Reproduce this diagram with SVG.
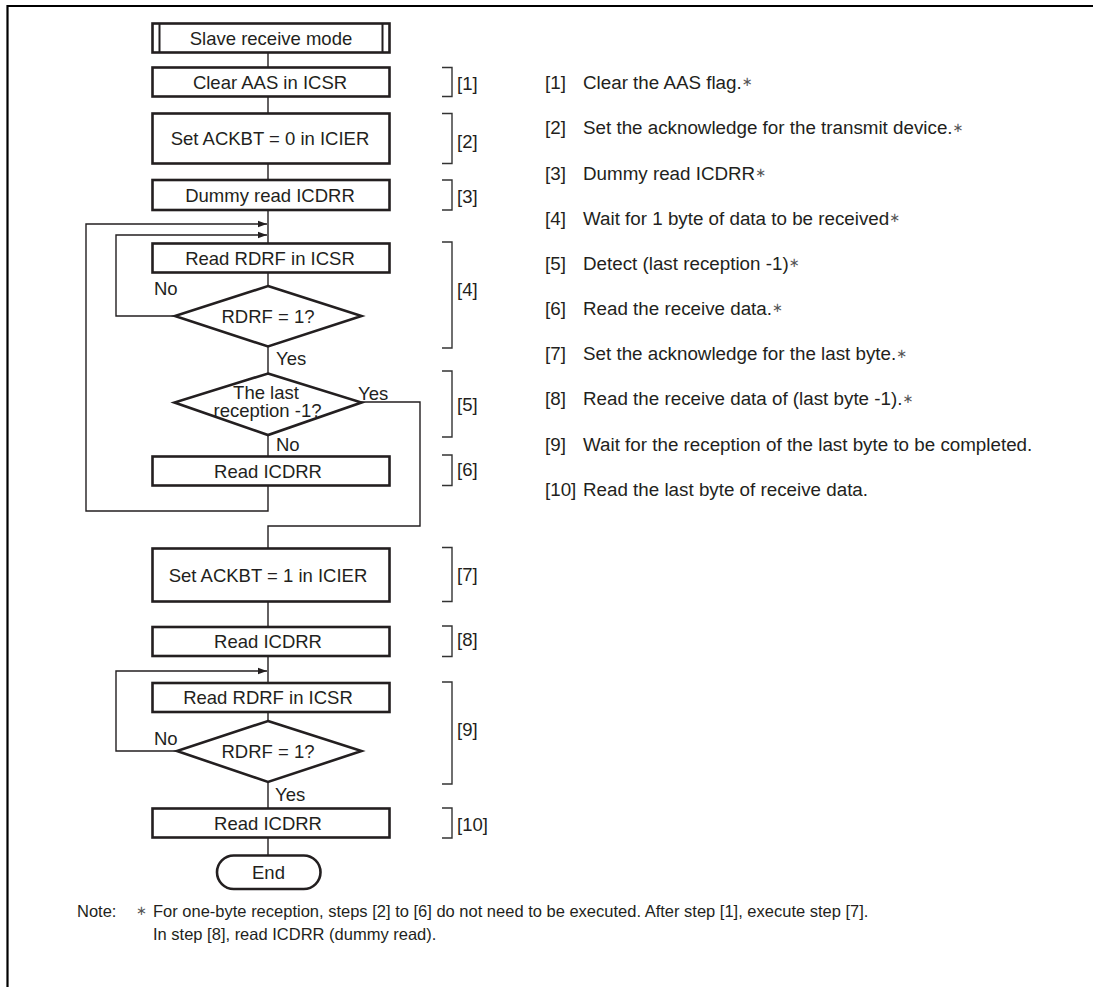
<svg xmlns="http://www.w3.org/2000/svg" width="1093" height="987" viewBox="0 0 1093 987">
<style>
text{font-family:"Liberation Sans",Arial,sans-serif;font-size:18.5px;fill:#231f20}
.c{text-anchor:middle}
.s{font-size:18.8px}
.box{fill:#fff;stroke:#231f20;stroke-width:2.6}
.ln{fill:none;stroke:#231f20;stroke-width:1.4}
.br{fill:none;stroke:#333;stroke-width:1.4}
.ast{font-family:"DejaVu Sans",sans-serif;font-size:13px;fill:#555}
.note{font-size:16.5px}
</style>
<defs>
<marker id="ah" markerWidth="10" markerHeight="8" refX="9" refY="4" orient="auto" markerUnits="userSpaceOnUse">
<path d="M0,0.8 L9,4 L0,7.2 Z" fill="#231f20"/>
</marker>
</defs>
<rect width="1093" height="987" fill="#fff"/>
<g id="frame"><path d="M7.5,987 V6 H1093" fill="none" stroke="#000" stroke-width="2.2"/></g>

<g id="connectors">
<path class="ln" d="M268,52 V67 M268,96 V113 M268,163 V179 M268,210 V243 M268,272 V286 M268,347 V373 M268,435 V456 M268,485 V511 H86 V224 H267" marker-end="url(#ah)"/>
<path class="ln" d="M176,316 H116 V235 H267" marker-end="url(#ah)"/>
<path class="ln" d="M361,402 H420 V526 H268 V548 M268,601 V627 M268,656 V683 M268,712 V721 M268,782 V808 M268,838 V855"/>
<path class="ln" d="M178,751 H116 V671 H267" marker-end="url(#ah)"/>
</g>

<g id="n0"><rect class="box" x="152.5" y="23.5" width="237" height="29"/><path d="M159.5,23.5 V52.5 M382.5,23.5 V52.5" stroke="#231f20" stroke-width="2"/><text class="c" x="271" y="44.5">Slave receive mode</text></g>
<g id="n1"><rect class="box" x="152.5" y="67.5" width="237" height="29"/><text class="c" x="270" y="88.5">Clear AAS in ICSR</text></g>
<g id="n2"><rect class="box" x="152.5" y="113.5" width="237" height="50"/><text class="c" x="270" y="145">Set ACKBT = 0 in ICIER</text></g>
<g id="n3"><rect class="box" x="152.5" y="180" width="237" height="30"/><text class="c" x="270" y="201.5">Dummy read ICDRR</text></g>
<g id="n4"><rect class="box" x="152.5" y="243.5" width="237" height="29"/><text class="c" x="270" y="264.5">Read RDRF in ICSR</text></g>
<g id="n5"><path class="box" d="M268,286 L361.5,316 L268,346.5 L175,316 Z"/><text class="c" x="268" y="323">RDRF = 1?</text></g>
<g id="n6"><path class="box" d="M268,373.5 L361.5,402.5 L268,435 L174.5,402.5 Z"/><text class="c" x="266" y="398.5">The last</text><text class="c" x="267.5" y="417">reception -1?</text></g>
<g id="n7"><rect class="box" x="152.5" y="456.5" width="237" height="29"/><text class="c" x="268" y="477.5">Read ICDRR</text></g>
<g id="n8"><rect class="box" x="152.5" y="548.5" width="237" height="53"/><text class="c" x="268" y="581.5">Set ACKBT = 1 in ICIER</text></g>
<g id="n9"><rect class="box" x="152.5" y="627" width="237" height="29"/><text class="c" x="268" y="648">Read ICDRR</text></g>
<g id="n10"><rect class="box" x="152.5" y="683" width="237" height="29"/><text class="c" x="268" y="704">Read RDRF in ICSR</text></g>
<g id="n11"><path class="box" d="M268,721 L361.5,751 L268,782 L177,751 Z"/><text class="c" x="268" y="757.5">RDRF = 1?</text></g>
<g id="n12"><rect class="box" x="152.5" y="808.5" width="237" height="29"/><text class="c" x="268" y="829.5">Read ICDRR</text></g>
<g id="n13"><rect class="box" x="217" y="855.5" width="103.5" height="33.5" rx="16.75"/><text class="c" x="268.5" y="879">End</text></g>

<g id="branch-labels">
<text x="154" y="295">No</text>
<text x="276" y="365">Yes</text>
<text x="358" y="400">Yes</text>
<text x="276" y="450.5">No</text>
<text x="154" y="745">No</text>
<text x="275" y="800.5">Yes</text>
</g>

<g id="brackets">
<path class="br" d="M442,67.5 H452 V96.5 H442 M442,113.5 H452 V163.5 H442 M442,180 H452 V210 H442 M442,242 H452 V348 H442 M442,371 H452 V437 H442 M442,455 H452 V485.5 H442 M442,547.5 H452 V601.5 H442 M442,626 H452 V656.5 H442 M442,682 H452 V784 H442 M442,808 H452 V838 H442"/>
<text x="457" y="90">[1]</text>
<text x="457" y="148">[2]</text>
<text x="457" y="203">[3]</text>
<text x="457" y="296">[4]</text>
<text x="457" y="411">[5]</text>
<text x="457" y="476">[6]</text>
<text x="457" y="581">[7]</text>
<text x="457" y="646">[8]</text>
<text x="457" y="736">[9]</text>
<text x="457" y="831">[10]</text>
</g>

<g id="steps" class="s">
<text class="s" x="545" y="88.5">[1]</text><text class="s" x="583" y="88.5">Clear the AAS flag.<tspan class="ast" dy="-2.5">∗</tspan></text>
<text class="s" x="545" y="134">[2]</text><text class="s" x="583" y="134">Set the acknowledge for the transmit device.<tspan class="ast" dy="-2.5">∗</tspan></text>
<text class="s" x="545" y="179.5">[3]</text><text class="s" x="583" y="179.5">Dummy read ICDRR<tspan class="ast" dy="-2.5">∗</tspan></text>
<text class="s" x="545" y="224.5">[4]</text><text class="s" x="583" y="224.5">Wait for 1 byte of data to be received<tspan class="ast" dy="-2.5">∗</tspan></text>
<text class="s" x="545" y="269.5">[5]</text><text class="s" x="583" y="269.5">Detect (last reception -1)<tspan class="ast" dy="-2.5">∗</tspan></text>
<text class="s" x="545" y="314.5">[6]</text><text class="s" x="583" y="314.5">Read the receive data.<tspan class="ast" dy="-2.5">∗</tspan></text>
<text class="s" x="545" y="360">[7]</text><text class="s" x="583" y="360">Set the acknowledge for the last byte.<tspan class="ast" dy="-2.5">∗</tspan></text>
<text class="s" x="545" y="405">[8]</text><text class="s" x="583" y="405">Read the receive data of (last byte -1).<tspan class="ast" dy="-2.5">∗</tspan></text>
<text class="s" x="545" y="450.5">[9]</text><text class="s" x="583" y="450.5">Wait for the reception of the last byte to be completed.</text>
<text class="s" x="545" y="496">[10]</text><text class="s" x="583" y="496">Read the last byte of receive data.</text>
</g>

<g id="note">
<text class="note" x="77" y="917">Note:</text>
<text class="ast" x="136" y="914.5">∗</text>
<text class="note" x="153" y="917">For one-byte reception, steps [2] to [6] do not need to be executed. After step [1], execute step [7].</text>
<text class="note" x="153" y="940">In step [8], read ICDRR (dummy read).</text>
</g>
</svg>
